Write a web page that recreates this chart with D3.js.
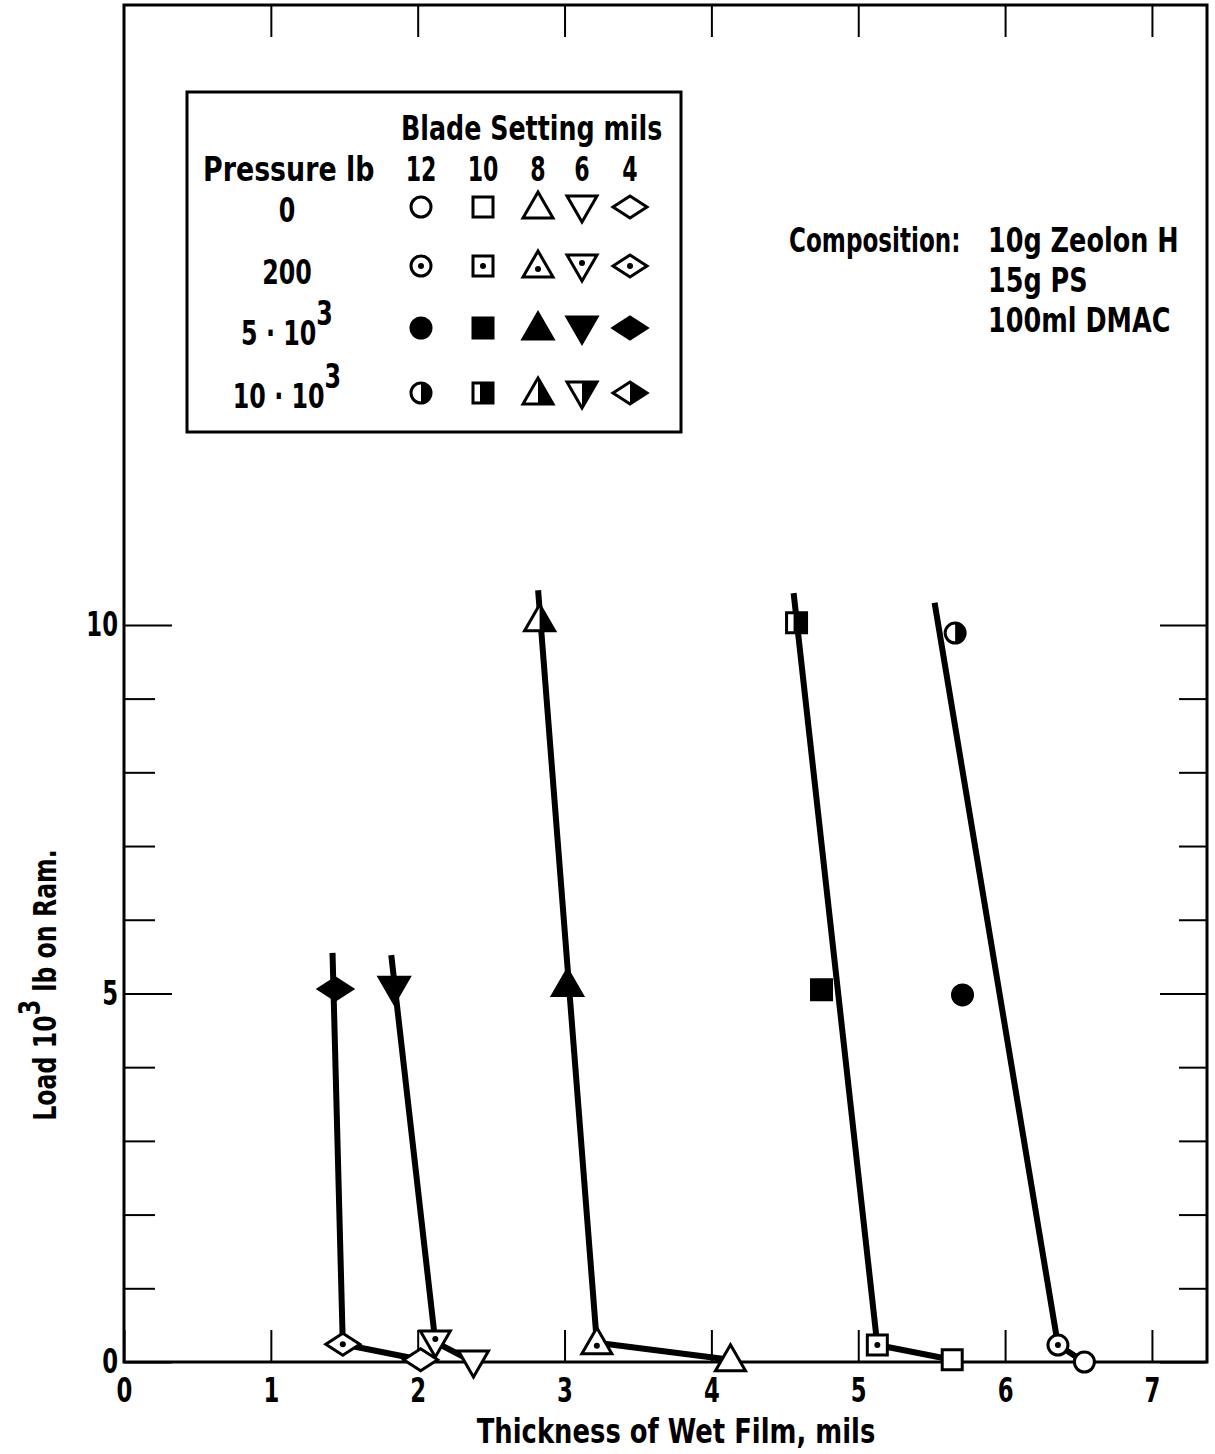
<!DOCTYPE html>
<html>
<head>
<meta charset="utf-8">
<script src="https://cdn.jsdelivr.net/npm/d3@7"></script>
<style>
  body { margin: 0; background: #fff; }
  text {
    font-family: "DejaVu Sans", sans-serif;
    font-weight: bold;
    fill: #000;
  }
</style>
</head>
<body>
<svg id="chart" width="1215" height="1454"></svg>
<script>
// Blade settings (mils) and the marker shape used for each
const bladeSettings = [12, 10, 8, 6, 4];
const bladeShapes = ["circle", "square", "triangle", "triangleDown", "diamond"];

// Ram pressure levels (lb) and the marker fill used for each
const pressureLabels = ["0", "200", "5·10³", "10·10³"];
const pressureFills = ["open", "dot", "solid", "half"];

// Wet-film thickness (mils) and load (10³ lb) for each blade setting,
// ordered by pressure level 0, 200, 5·10³, 10·10³
const thickness12 = [6.54, 6.36, 5.71, 5.66];
const load12      = [0.00, 0.23, 4.98, 9.89];
const thickness10 = [5.64, 5.13, 4.75, 4.58];
const load10      = [0.03, 0.23, 5.05, 10.03];
const thickness8  = [4.13, 3.22, 3.02, 2.83];
const load8       = [0.03, 0.26, 5.12, 10.07];
const thickness6  = [2.38, 2.12, 1.84];
const load6       = [0.00, 0.27, 5.07];
const thickness4  = [2.02, 1.49, 1.44];
const load4       = [0.03, 0.24, 5.06];

// Upper end of the hand-fitted line through each blade setting
const fitEndThickness = [5.52, 4.56, 2.82, 1.82, 1.42];
const fitEndLoad      = [10.30, 10.43, 10.47, 5.52, 5.55];

// Axis ticks
const xTicks = [0, 1, 2, 3, 4, 5, 6, 7];
const yMajorTicks = [0, 5, 10];
const yMinorTicks = [1, 2, 3, 4, 6, 7, 8, 9];

const compositionLines = ["10g Zeolon H", "15g PS", "100ml DMAC"];

const thicknessSets = [thickness12, thickness10, thickness8, thickness6, thickness4];
const loadSets = [load12, load10, load8, load6, load4];

const svg = d3.select("#chart");
const plotLeft = 124, plotRight = 1207, plotTop = 5, plotBottom = 1362;

const x = d3.scaleLinear().domain([0, 7.375]).range([plotLeft, plotRight]);
const y = d3.scaleLinear().domain([0, 18.41]).range([plotBottom, plotTop]);

// condensed bold lettering: glyphs squeezed horizontally
const LETTER_SX = 0.75, DIGIT_SX = 0.67;
function label(parent, str, px, py, opts = {}) {
  const t = parent.append("text")
    .attr("transform", `translate(${px},${py}) ${opts.rotate ? `rotate(${opts.rotate})` : ""} scale(${opts.sx || LETTER_SX},1)`)
    .attr("text-anchor", opts.anchor || "start")
    .style("font-size", (opts.size || 34) + "px");
  if (str !== null) t.text(str);
  return t;
}

const defs = svg.append("defs");
defs.append("clipPath").attr("id", "clipRight")
  .append("rect").attr("x", 0).attr("y", -40).attr("width", 40).attr("height", 80);
defs.append("clipPath").attr("id", "clipRightSquare")
  .append("rect").attr("x", -3).attr("y", -40).attr("width", 40).attr("height", 80);

// ---- axes (ticks point inward on all four sides) ----
function styleAxis(g) {
  g.select(".domain").remove();
  g.attr("font-family", null).attr("font-size", null);
  g.selectAll(".tick line").attr("stroke", "#000").attr("stroke-width", 2);
  g.selectAll(".tick text").attr("fill", "#000").style("font-size", "34px")
    .attr("transform", `scale(${DIGIT_SX},1)`);
}

svg.append("g").attr("transform", `translate(0,${plotBottom})`)
  .call(d3.axisBottom(x).tickValues(xTicks).tickFormat(d3.format("d"))
    .tickSizeInner(-32).tickSizeOuter(0).tickPadding(16))
  .call(styleAxis);

svg.append("g").attr("transform", `translate(0,${plotTop})`)
  .call(d3.axisTop(x).tickValues(xTicks.slice(1)).tickFormat("")
    .tickSizeInner(-32).tickSizeOuter(0))
  .call(styleAxis);

svg.append("g").attr("transform", `translate(${plotLeft},0)`)
  .call(d3.axisLeft(y).tickValues(yMinorTicks).tickFormat("")
    .tickSizeInner(-31).tickSizeOuter(0))
  .call(styleAxis);
svg.append("g").attr("transform", `translate(${plotLeft},0)`)
  .call(d3.axisLeft(y).tickValues(yMajorTicks).tickFormat(d3.format("d"))
    .tickSizeInner(-48).tickSizeOuter(0).tickPadding(9))
  .call(styleAxis);

svg.append("g").attr("transform", `translate(${plotRight},0)`)
  .call(d3.axisRight(y).tickValues(yMinorTicks).tickFormat("")
    .tickSizeInner(-28).tickSizeOuter(0))
  .call(styleAxis);
svg.append("g").attr("transform", `translate(${plotRight},0)`)
  .call(d3.axisRight(y).tickValues(yMajorTicks).tickFormat("")
    .tickSizeInner(-47).tickSizeOuter(0))
  .call(styleAxis);

// frame
svg.append("rect")
  .attr("x", plotLeft).attr("y", plotTop)
  .attr("width", plotRight - plotLeft).attr("height", plotBottom - plotTop)
  .attr("fill", "none").attr("stroke", "#000").attr("stroke-width", 3);

// axis titles
label(svg, "Thickness of Wet Film,  mils", 676, 1443, { anchor: "middle", sx: 0.76 });

const yTitle = label(svg, null, 56, 985, { anchor: "middle", rotate: -90, size: 32, sx: 0.74 });
yTitle.append("tspan").text("Load 10");
yTitle.append("tspan").attr("dy", -16).style("font-size", "30px").text("3");
yTitle.append("tspan").attr("dy", 16).text(" lb on Ram.");

// ---- marker glyphs ----
function shapePath(shape) {
  switch (shape) {
    case "circle": {
      const p = d3.path();
      p.moveTo(10, 0);
      p.arc(0, 0, 10, 0, 2 * Math.PI);
      p.closePath();
      return p.toString();
    }
    case "square": return "M-10,-10H10V10H-10Z";
    case "triangle": return "M0,-15L15,11L-15,11Z";
    case "triangleDown": return "M0,15L15,-11L-15,-11Z";
    case "diamond": return "M-17,0L0,-11L17,0L0,11Z";
  }
}

function drawMarker(parent, shape, fill, cx, cy) {
  const g = parent.append("g").attr("transform", `translate(${cx},${cy})`);
  const d = shapePath(shape);
  g.append("path").attr("d", d)
    .attr("fill", fill === "solid" ? "#000" : "#fff")
    .attr("stroke", "#000").attr("stroke-width", 3)
    .attr("stroke-linejoin", "miter");
  if (fill === "half") {
    g.append("path").attr("d", d).attr("fill", "#000")
      .attr("clip-path", shape === "square" ? "url(#clipRightSquare)" : "url(#clipRight)");
  }
  if (fill === "dot") {
    const dy = shape === "triangle" ? 3 : shape === "triangleDown" ? -3 : 0;
    g.append("circle").attr("cx", 0).attr("cy", dy).attr("r", 3).attr("fill", "#000");
  }
  return g;
}

// ---- fitted lines ----
const line = d3.line().x(d => x(d[0])).y(d => y(d[1]));
const lineLayer = svg.append("g");
bladeSettings.forEach((b, i) => {
  const t = thicknessSets[i], l = loadSets[i];
  const pts = [[t[0], l[0]], [t[1], l[1]], [fitEndThickness[i], fitEndLoad[i]]];
  lineLayer.append("path")
    .attr("d", line(pts))
    .attr("fill", "none").attr("stroke", "#000")
    .attr("stroke-width", 6).attr("stroke-linejoin", "round");
});

// ---- data points ----
const pointLayer = svg.append("g");
bladeSettings.forEach((b, i) => {
  const t = thicknessSets[i], l = loadSets[i];
  t.forEach((v, j) => {
    drawMarker(pointLayer, bladeShapes[i], pressureFills[j], x(v), y(l[j]));
  });
});

// ---- legend ----
const legend = svg.append("g");
legend.append("rect")
  .attr("x", 187).attr("y", 92).attr("width", 494).attr("height", 340)
  .attr("fill", "none").attr("stroke", "#000").attr("stroke-width", 3);
label(legend, "Blade Setting mils", 401, 140, { sx: 0.745 });
label(legend, "Pressure lb", 203, 181, { sx: 0.79 });

const legendColX = [421, 483, 538, 582, 630];
const legendRowY = [207, 266, 328, 393];
const legendLabelY = [222, 284, 345, 408];

bladeSettings.forEach((b, i) => {
  label(legend, String(b), legendColX[i], 181, { anchor: "middle", sx: 0.65 });
});

pressureLabels.forEach((p, j) => {
  const txt = label(legend, null, 287, legendLabelY[j], { anchor: "middle", sx: 0.7 });
  const m = p.match(/^(.*)³$/);
  if (m) {
    const parts = m[1].split("·");
    txt.append("tspan").text(parts[0] + " · " + parts[1]);
    txt.append("tspan").attr("dy", -20).text("3");
  } else {
    txt.text(p);
  }
  bladeSettings.forEach((b, i) => {
    drawMarker(legend, bladeShapes[i], pressureFills[j], legendColX[i], legendRowY[j]);
  });
});

// ---- composition note ----
label(svg, "Composition:", 789, 252, { sx: 0.68 });
compositionLines.forEach((s, k) => {
  label(svg, s, 988, 252 + k * 40, { sx: 0.75 });
});
</script>
</body>
</html>
